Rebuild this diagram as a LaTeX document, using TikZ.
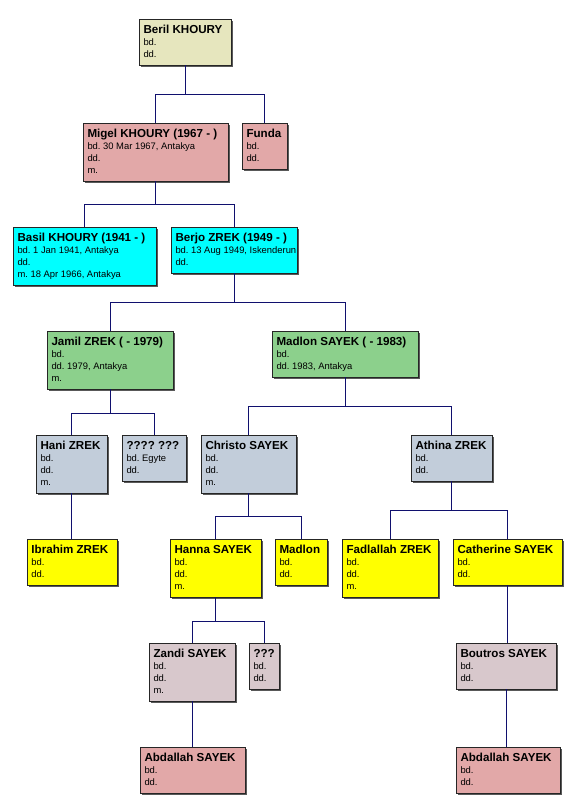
\documentclass[tikz,border=0pt]{standalone}
\usepackage{fontspec}
\setmainfont{Liberation Sans}
\usetikzlibrary{shadows}
\definecolor{cBeril}{HTML}{E6E6BE}
\definecolor{cPink}{HTML}{E2A8A8}
\definecolor{cCyan}{HTML}{00FFFF}
\definecolor{cGreen}{HTML}{8CD08C}
\definecolor{cGrey}{HTML}{C2CDDA}
\definecolor{cYellow}{HTML}{FFFF00}
\definecolor{cMauve}{HTML}{D8C8CC}
\definecolor{cLine}{HTML}{10106E}
\newcommand{\tfont}{\fontsize{11.6pt}{12pt}\selectfont\bfseries}
\newcommand{\dfont}{\fontsize{9.4pt}{12pt}\selectfont\mdseries}
\newcommand{\person}[7]{%
  \node[pbox, fill=#6, anchor=north west] (#1) at (#2,#3)
   {\parbox[t][#5pt][t]{#4pt}{\frenchspacing\leftskip=4.5pt\parindent=0pt\parskip=0pt\tfont\rule{0pt}{14.5pt}#7}};}
\begin{document}
\begin{tikzpicture}[x=1pt,y=-1pt,
  pbox/.style={draw=black!85, line width=0.7pt, inner sep=0pt, outer sep=0pt,
    drop shadow={shadow xshift=1.6pt, shadow yshift=-1.6pt, fill=black!65, opacity=1}},
  conn/.style={draw=cLine, line width=0.9pt}]
\useasboundingbox[fill=white] (0,0) rectangle (575,812);
% row 1
\person{beril}{139}{19}{92}{46}{cBeril}{Beril KHOURY\par\dfont bd.\par dd.}
% row 2
\person{migel}{83}{123}{145}{58}{cPink}{Migel KHOURY (1967 - )\par\dfont bd. 30 Mar 1967, Antakya\par dd.\par m.}
\person{funda}{242}{123}{45}{46}{cPink}{Funda\par\dfont bd.\par dd.}
% row 3
\person{basil}{13}{227}{143}{58}{cCyan}{Basil KHOURY (1941 - )\par\dfont bd. 1 Jan 1941, Antakya\par dd.\par m. 18 Apr 1966, Antakya}
\person{berjo}{171}{227}{126}{46}{cCyan}{Berjo ZREK (1949 - )\par\dfont bd. 13 Aug 1949, Iskenderun\par dd.}
% row 4
\person{jamil}{47}{331}{126}{58}{cGreen}{Jamil ZREK ( - 1979)\par\dfont bd.\par dd. 1979, Antakya\par m.}
\person{madlons}{272}{331}{146}{46}{cGreen}{Madlon SAYEK ( - 1983)\par\dfont bd.\par dd. 1983, Antakya}
% row 5
\person{hani}{36}{435}{71}{58}{cGrey}{Hani ZREK\par\dfont bd.\par dd.\par m.}
\person{unk4}{122}{435}{64}{46}{cGrey}{???? ???\par\dfont bd. Egyte\par dd.}
\person{christo}{201}{435}{95}{58}{cGrey}{Christo SAYEK\par\dfont bd.\par dd.\par m.}
\person{athina}{411}{435}{81}{46}{cGrey}{Athina ZREK\par\dfont bd.\par dd.}
% row 6
\person{ibrahim}{27}{539}{90}{46}{cYellow}{Ibrahim ZREK\par\dfont bd.\par dd.}
\person{hanna}{170}{539}{91}{58}{cYellow}{Hanna SAYEK\par\dfont bd.\par dd.\par m.}
\person{madlon}{275}{539}{52}{46}{cYellow}{Madlon\par\dfont bd.\par dd.}
\person{fadlallah}{342}{539}{96}{58}{cYellow}{Fadlallah ZREK\par\dfont bd.\par dd.\par m.}
\person{catherine}{453}{539}{109}{46}{cYellow}{Catherine SAYEK\par\dfont bd.\par dd.}
% row 7
\person{zandi}{149}{643}{86}{58}{cMauve}{Zandi SAYEK\par\dfont bd.\par dd.\par m.}
\person{unk3}{249}{643}{30}{46}{cMauve}{???\par\dfont bd.\par dd.}
\person{boutros}{456}{643}{100}{46}{cMauve}{Boutros SAYEK\par\dfont bd.\par dd.}
% row 8
\person{abdallaha}{140}{747}{105}{46}{cPink}{Abdallah SAYEK\par\dfont bd.\par dd.}
\person{abdallahb}{456}{747}{104}{46}{cPink}{Abdallah SAYEK\par\dfont bd.\par dd.}
% junctions
\coordinate (j1) at (beril.south |- 0,94);
\coordinate (j2) at (migel.south |- 0,204);
\coordinate (j3) at (berjo.south |- 0,302);
\coordinate (j4) at (jamil.south |- 0,413);
\coordinate (j5) at (madlons.south |- 0,406);
\coordinate (j6) at (christo.south |- 0,516);
\coordinate (j7) at (athina.south |- 0,510);
\coordinate (j8) at (hanna.south |- 0,621);
\draw[conn] (beril.south) -- (j1) -| (migel.north);
\draw[conn] (j1) -| (funda.north);
\draw[conn] (migel.south) -- (j2) -| (basil.north);
\draw[conn] (j2) -| (berjo.north);
\draw[conn] (berjo.south) -- (j3) -| (jamil.north);
\draw[conn] (j3) -| (madlons.north);
\draw[conn] (jamil.south) -- (j4) -| (hani.north);
\draw[conn] (j4) -| (unk4.north);
\draw[conn] (madlons.south) -- (j5) -| (christo.north);
\draw[conn] (j5) -| (athina.north);
\draw[conn] (hani.south) -- (ibrahim.north -| hani.south);
\draw[conn] (christo.south) -- (j6) -| (hanna.north);
\draw[conn] (j6) -| (madlon.north);
\draw[conn] (athina.south) -- (j7) -| (fadlallah.north);
\draw[conn] (j7) -| (catherine.north);
\draw[conn] (hanna.south) -- (j8) -| (zandi.north);
\draw[conn] (j8) -| (unk3.north);
\draw[conn] (zandi.south) -- (abdallaha.north -| zandi.south);
\draw[conn] (catherine.south) -- (boutros.north -| catherine.south);
\draw[conn] (boutros.south) -- (abdallahb.north -| boutros.south);
\end{tikzpicture}
\end{document}
